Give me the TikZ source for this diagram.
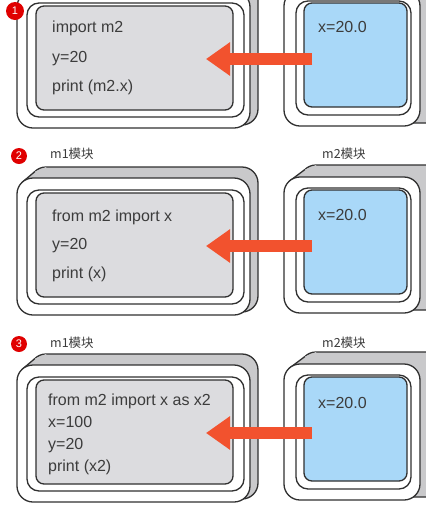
\documentclass[tikz,border=0pt]{standalone}
\usepackage{fontspec}
\setmainfont{Liberation Sans}
\newfontfamily\cjk{Noto Sans CJK SC}
\usetikzlibrary{arrows.meta}
\definecolor{backgray}{HTML}{C9C9CB}
\definecolor{innergray}{HTML}{DCDCDF}
\definecolor{codeblue}{HTML}{A9D8F8}
\definecolor{framecol}{HTML}{303030}
\definecolor{textcol}{HTML}{3C3C3C}
\definecolor{arrowred}{HTML}{F2522E}
\definecolor{badgered}{HTML}{E00000}
\tikzset{
  boxbase/.style={draw=framecol, line width=1.3pt, inner sep=0pt, outer sep=0pt},
  backbox/.style={boxbase, fill=backgray, rounded corners=16pt},
  outerbox/.style={boxbase, fill=white, rounded corners=16pt},
  secondbox/.style={boxbase, fill=white, rounded corners=12pt},
  graybox/.style={boxbase, fill=innergray, rounded corners=8pt},
  bluebox/.style={boxbase, fill=codeblue, rounded corners=8pt},
  extrude/.style={fill=backgray},
  edgeline/.style={draw=framecol, line width=1.3pt},
  codetext/.style={anchor=base west, inner sep=0pt, text=textcol, font=\fontsize{16}{19}\selectfont},
  modlabel/.style={anchor=base west, inner sep=0pt, text=textcol, font=\cjk\fontsize{12.5}{14}\selectfont},
  badge/.style={circle, fill=badgered, inner sep=0pt, minimum size=16pt, text=white, font=\fontsize{11}{12}\selectfont},
  bigarrow/.style={draw=arrowred, line width=12pt, -{Triangle[length=24pt,width=32pt,fill=arrowred]}}
}
\newcommand\mybox[6]{%
  \node[#2, minimum width={(#5)-(#3)}, minimum height={(#6)-(#4)}] (#1) at ({((#3)+(#5))/2},{((#4)+(#6))/2}) {};}
\begin{document}
\begin{tikzpicture}[x=1pt,y=-1pt]
\useasboundingbox (0,0) rectangle (426,507);
\clip (0,0) rectangle (426,507);
\fill[white] (0,0) rectangle (426,507);
\foreach \p/\B in {1/0,2/187,3/374}{
  % left module
  \mybox{lback\p}{backbox}{30}{\B-20}{258}{\B+125}
  \fill[extrude] (21.7,\B-4.3) -- (34.7,\B-15.3) -- (46,\B-20) -- (60,\B+20) -- (17,\B+20) -- cycle;
  \draw[edgeline] (21.7,\B-4.3) -- (34.7,\B-15.3);
  \mybox{louter\p}{outerbox}{17}{\B-9}{250}{\B+128}
  \mybox{lsecond\p}{secondbox}{27}{\B+3}{244}{\B+117}
  \mybox{inner\p}{graybox}{36}{\B+6}{233}{\B+110}
  % right module
  \mybox{rback\p}{backbox}{300}{\B-22}{445}{\B+123}
  \fill[extrude] (288.7,\B-5.3) -- (304.7,\B-17.3) -- (316,\B-22) -- (330,\B+20) -- (284,\B+20) -- cycle;
  \draw[edgeline] (288.7,\B-5.3) -- (304.7,\B-17.3);
  \mybox{router\p}{outerbox}{284}{\B-10}{420}{\B+126}
  \mybox{rsecond\p}{secondbox}{296}{\B+1}{411}{\B+115}
  \mybox{blue\p}{bluebox}{304}{\B+3}{407}{\B+107}
  \draw[bigarrow] ([shift={(8,4)}]blue\p.west) -- ([shift={(-27,1)}]inner\p.east);
}
% panel 1
\node[badge, minimum size=18pt] (badge1) at (15,11) {1};
\node[codetext] (p1a) at (52,32) {import m2};
\node[codetext] (p1b) at (52,62) {y=20};
\node[codetext] (p1c) at (52,91) {print (m2.x)};
\node[codetext] (xval1) at (318,32) {x=20.0};
% panel 2
\node[badge] (badge2) at (19,156) {2};
\node[modlabel] (m1lab2) at (50,158) {m1模块};
\node[modlabel] (m2lab2) at (322,158) {m2模块};
\node[codetext] (p2a) at (52,221) {from m2 import x};
\node[codetext] (p2b) at (52,249) {y=20};
\node[codetext] (p2c) at (52,278) {print (x)};
\node[codetext] (xval2) at (318,220) {x=20.0};
% panel 3
\node[badge] (badge3) at (19,344) {3};
\node[modlabel] (m1lab3) at (50,347) {m1模块};
\node[modlabel] (m2lab3) at (322,347) {m2模块};
\node[codetext] (p3a) at (48,405) {from m2 import x as x2};
\node[codetext] (p3b) at (48,427) {x=100};
\node[codetext] (p3c) at (48,449) {y=20};
\node[codetext] (p3d) at (48,471) {print (x2)};
\node[codetext] (xval3) at (318,408) {x=20.0};
\end{tikzpicture}
\end{document}
